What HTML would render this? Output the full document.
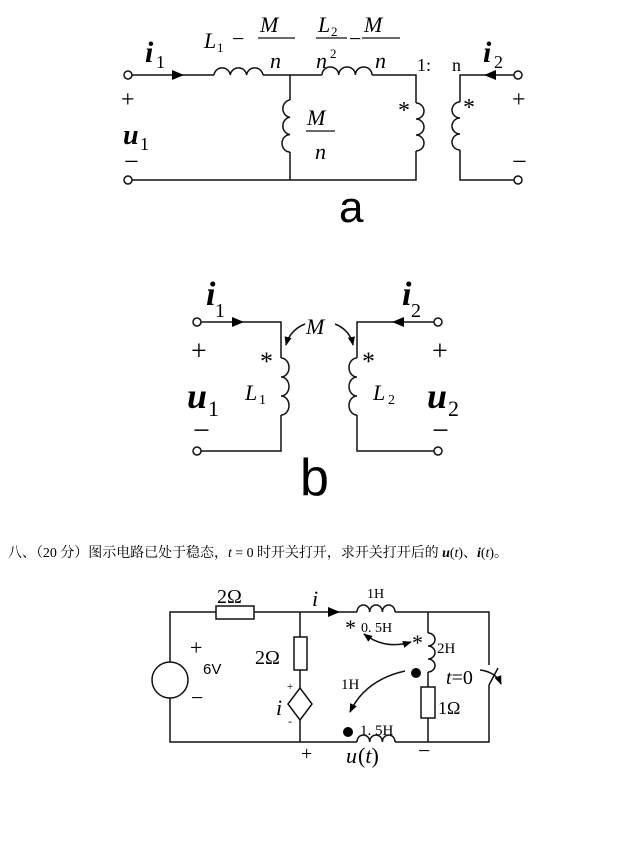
<!DOCTYPE html>
<html><head><meta charset="utf-8"><style>
html,body{margin:0;padding:0;background:#fff;}
svg{display:block;}
.s{font-family:"Liberation Serif","Noto Serif CJK SC",serif;}
.a{font-family:"Liberation Sans",sans-serif;}
</style></head><body>
<svg width="644" height="841" viewBox="0 0 644 841" xmlns="http://www.w3.org/2000/svg">
<defs>
<marker id="ar" viewBox="0 0 10 10" refX="9" refY="5" markerWidth="6" markerHeight="6" orient="auto-start-reverse"><path d="M0,1 L10,5 L0,9 z" fill="#000"/></marker>
</defs>
<g fill="none" stroke="#111" stroke-width="1.5">
<!-- Diagram a -->
<circle cx="128" cy="75" r="4" fill="#fff"/>
<circle cx="128" cy="180" r="4" fill="#fff"/>
<path d="M132,75 H214 M263,75 H322 M372,75 H416 V103 M416,151 V180 H132"/>
<path d="M214,75 a8.2,8 0 0 1 16.3,0 a8.2,8 0 0 1 16.3,0 a8.2,8 0 0 1 16.3,0"/>
<path d="M322,75 a8.3,8 0 0 1 16.7,0 a8.3,8 0 0 1 16.7,0 a8.3,8 0 0 1 16.6,0"/>
<path d="M290,75 V100 M290,152 V180"/>
<path d="M290,100 a8,8.7 0 0 0 0,17.3 a8,8.7 0 0 0 0,17.3 a8,8.7 0 0 0 0,17.4"/>
<path d="M416,103 a8,8 0 0 1 0,16 a8,8 0 0 1 0,16 a8,8 0 0 1 0,16"/>
<path d="M514,75 H460 V102 M460,150 V180 H514"/>
<path d="M460,102 a8,8 0 0 0 0,16 a8,8 0 0 0 0,16 a8,8 0 0 0 0,16"/>
<circle cx="518" cy="75" r="4" fill="#fff"/>
<circle cx="518" cy="180" r="4" fill="#fff"/>
<path d="M258,38 H295 M306,131 H335 M316,38 H347 M362,38 H400" stroke-width="1.2"/>
<!-- Diagram b -->
<circle cx="197" cy="322" r="4" fill="#fff"/>
<circle cx="197" cy="451" r="4" fill="#fff"/>
<path d="M201,322 H281 V358 M281,415 V451 H201"/>
<path d="M281,358 a8,9.5 0 0 1 0,19 a8,9.5 0 0 1 0,19 a8,9.5 0 0 1 0,19"/>
<circle cx="438" cy="322" r="4" fill="#fff"/>
<circle cx="438" cy="451" r="4" fill="#fff"/>
<path d="M434,322 H357 V358 M357,415 V451 H434"/>
<path d="M357,358 a8,9.5 0 0 0 0,19 a8,9.5 0 0 0 0,19 a8,9.5 0 0 0 0,19"/>
<path d="M305,324 Q290,330 286,345" marker-end="url(#ar)"/>
<path d="M335,324 Q350,330 353,345" marker-end="url(#ar)"/>
<!-- Circuit c -->
<path d="M170,662 V612 H216 M254,612 H357 M395,612 H489 V665 M489,685 V742 H395 M357,742 H170 V698"/>
<rect x="216" y="606" width="38" height="13" fill="#fff"/>
<circle cx="170" cy="680" r="18"/>
<path d="M300,612 V637 M300,670 V688 M300,720 V742"/>
<rect x="294" y="637" width="13" height="33" fill="#fff"/>
<path d="M300,688 L312,704 L300,720 L288,704 Z"/>
<path d="M357,612 a6.3,7 0 0 1 12.7,0 a6.3,7 0 0 1 12.7,0 a6.3,7 0 0 1 12.6,0"/>
<path d="M357,742 a6.3,7 0 0 1 12.7,0 a6.3,7 0 0 1 12.7,0 a6.3,7 0 0 1 12.6,0"/>
<path d="M428,612 V633 M428,672 V687 M428,718 V742"/>
<path d="M428,633 a7,6.5 0 0 1 0,13 a7,6.5 0 0 1 0,13 a7,6.5 0 0 1 0,13"/>
<rect x="421" y="687" width="14" height="31" fill="#fff"/>
<path d="M489,685 L498,668"/>
<path d="M480,670 Q496,672 501,684" marker-end="url(#ar)"/>
<path d="M364,634 Q385,650 411,642" marker-start="url(#ar)" marker-end="url(#ar)"/>
<path d="M405,671 Q365,680 350,712" marker-end="url(#ar)"/>
</g>
<g fill="#000">
<path d="M172,70 L184,75 L172,80 z"/>
<path d="M496,70 L484,75 L496,80 z"/>
<path d="M232,317 L244,322 L232,327 z"/>
<path d="M404,317 L392,322 L404,327 z"/>
<path d="M328,607 L340,612 L328,617 z"/>
<circle cx="416" cy="673" r="5"/>
<circle cx="348" cy="732" r="5"/>
</g>
<!-- labels a -->
<g class="s" fill="#000">
<text x="145" y="62" font-size="30" font-style="italic" font-weight="bold">i</text>
<text x="156" y="68" font-size="18">1</text>
<text x="204" y="48" font-size="22" font-style="italic">L</text><text x="217" y="52" font-size="13">1</text>
<text x="232" y="46" font-size="22">−</text>
<text x="260" y="32" font-size="22" font-style="italic">M</text>
<text x="270" y="68" font-size="22" font-style="italic">n</text>
<text x="318" y="32" font-size="22" font-style="italic">L</text><text x="331" y="36" font-size="13">2</text>
<text x="316" y="68" font-size="22" font-style="italic">n</text><text x="330" y="58" font-size="13">2</text>
<text x="349" y="46" font-size="22">−</text>
<text x="364" y="32" font-size="22" font-style="italic">M</text>
<text x="375" y="68" font-size="22" font-style="italic">n</text>
<text x="417" y="71" font-size="18">1:</text>
<text x="452" y="71" font-size="18">n</text>
<text x="483" y="62" font-size="30" font-style="italic" font-weight="bold">i</text>
<text x="494" y="68" font-size="18">2</text>
<text x="307" y="125" font-size="22" font-style="italic">M</text>
<text x="315" y="159" font-size="22" font-style="italic">n</text>
<text x="398" y="118" font-size="24">*</text>
<text x="463" y="115" font-size="24">*</text>
<text x="121" y="107" font-size="24">+</text>
<text x="123" y="144" font-size="28" font-style="italic" font-weight="bold">u</text><text x="140" y="150" font-size="18">1</text>
<text x="124" y="170" font-size="26">−</text>
<text x="512" y="107" font-size="24">+</text>
<text x="512" y="170" font-size="26">−</text>
</g>
<text class="a" x="339" y="222" font-size="44">a</text>
<!-- labels b -->
<g class="s" fill="#000">
<text x="206" y="305" font-size="34" font-style="italic" font-weight="bold">i</text><text x="215" y="317" font-size="20">1</text>
<text x="402" y="305" font-size="34" font-style="italic" font-weight="bold">i</text><text x="411" y="317" font-size="20">2</text>
<text x="306" y="334" font-size="22" font-style="italic">M</text>
<text x="260" y="370" font-size="26">*</text>
<text x="362" y="370" font-size="26">*</text>
<text x="245" y="400" font-size="22" font-style="italic">L</text><text x="259" y="404" font-size="14">1</text>
<text x="373" y="400" font-size="22" font-style="italic">L</text><text x="388" y="404" font-size="14">2</text>
<text x="191" y="360" font-size="28">+</text>
<text x="187" y="408" font-size="36" font-style="italic" font-weight="bold">u</text><text x="208" y="416" font-size="22">1</text>
<text x="193" y="440" font-size="30">−</text>
<text x="432" y="360" font-size="28">+</text>
<text x="427" y="408" font-size="36" font-style="italic" font-weight="bold">u</text><text x="448" y="416" font-size="22">2</text>
<text x="432" y="440" font-size="30">−</text>
</g>
<text class="a" x="300" y="495" font-size="52">b</text>
<!-- problem text -->
<text class="s" x="8" y="557" font-size="14" textLength="500">八、（20 分）图示电路已处于稳态，<tspan font-style="italic">t</tspan> = 0 时开关打开，求开关打开后的 <tspan font-style="italic" font-weight="bold">u</tspan>(<tspan font-style="italic">t</tspan>)、<tspan font-style="italic" font-weight="bold">i</tspan>(<tspan font-style="italic">t</tspan>)。</text>
<!-- labels c -->
<g class="s" fill="#000">
<text x="217" y="603" font-size="20">2Ω</text>
<text x="312" y="606" font-size="22" font-style="italic">i</text>
<text x="367" y="598" font-size="14">1H</text>
<text x="345" y="635" font-size="22">*</text>
<text x="361" y="632" font-size="14">0. 5H</text>
<text x="412" y="650" font-size="22">*</text>
<text x="437" y="653" font-size="15">2H</text>
<text x="255" y="664" font-size="20">2Ω</text>
<text x="190" y="655" font-size="22">+</text>
<text x="203" y="674" font-size="15" class="a">6V</text>
<text x="191" y="705" font-size="22">−</text>
<text x="287" y="690" font-size="11">+</text>
<text x="276" y="715" font-size="22" font-style="italic">i</text>
<text x="288" y="725" font-size="12">-</text>
<text x="341" y="689" font-size="15">1H</text>
<text x="446" y="684" font-size="20"><tspan font-style="italic">t</tspan>=0</text>
<text x="438" y="714" font-size="18">1Ω</text>
<text x="360" y="735" font-size="15">1. 5H</text>
<text x="301" y="760" font-size="20">+</text>
<text x="346" y="763" font-size="22" font-style="italic">u</text><text x="358" y="763" font-size="22">(<tspan font-style="italic">t</tspan>)</text>
<text x="418" y="758" font-size="22">−</text>
</g>
</svg>
</body></html>
